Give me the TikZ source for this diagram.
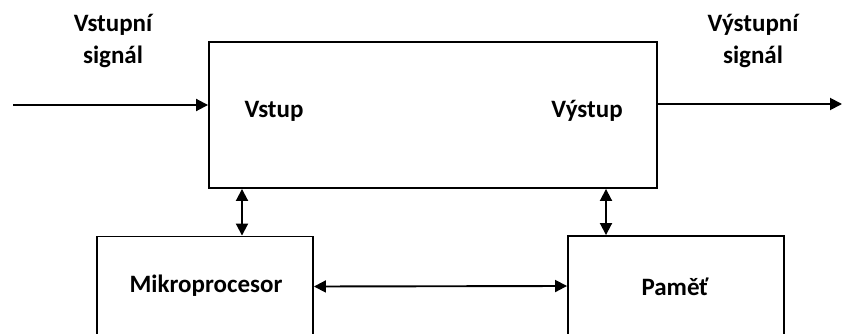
\documentclass[tikz,border=0pt]{standalone}
\usepackage{fontspec}
\setmainfont{Carlito}
\usetikzlibrary{arrows.meta}
\begin{document}
\begin{tikzpicture}[x=1pt,y=-1pt,
  lbl/.style={font=\bfseries\fontsize{25}{32}\selectfont, inner sep=0pt, align=center},
  blk/.style={draw, line width=1.9pt, inner sep=0pt},
  con/.style={line width=1.9pt, -{Triangle[length=12pt,width=12pt]}},
  bicon/.style={line width=1.9pt, {Triangle[length=12pt,width=12pt]}-{Triangle[length=12pt,width=12pt]}}]
\useasboundingbox (0,0) rectangle (843,334);
\clip (0,0) rectangle (843,334);
\node[blk, minimum width=448pt, minimum height=146pt] (main) at (433,115) {};
\node[blk, minimum width=216pt, minimum height=100pt] (mp) at (205,286.5) {};
\node[blk, minimum width=216pt, minimum height=100pt] (mem) at (676,286) {};
\node[lbl] (vstup) at (274,111) {Vstup};
\node[lbl] (vystup) at (587,111) {Výstup};
\node[lbl] (mptext) at (206,286) {Mikroprocesor};
\node[lbl] (memtext) at (675,287) {Paměť};
\node[lbl] (insig) at (113,41) {Vstupní\\signál};
\node[lbl] (outsig) at (753,41) {Výstupní\\signál};
\coordinate (in) at (13,105);
\coordinate (out) at (842,104);
\coordinate (v1) at (242,0);
\coordinate (v2) at (606,0);
\draw[con] (in) -- (in -| main.west);
\draw[con] (out -| main.east) -- (out);
\draw[bicon] (v1 |- main.south) -- (v1 |- mp.north);
\draw[bicon] (v2 |- main.south) -- (v2 |- mem.north);
\draw[bicon] (mp.east) -- (mem.west);
\end{tikzpicture}
\end{document}
